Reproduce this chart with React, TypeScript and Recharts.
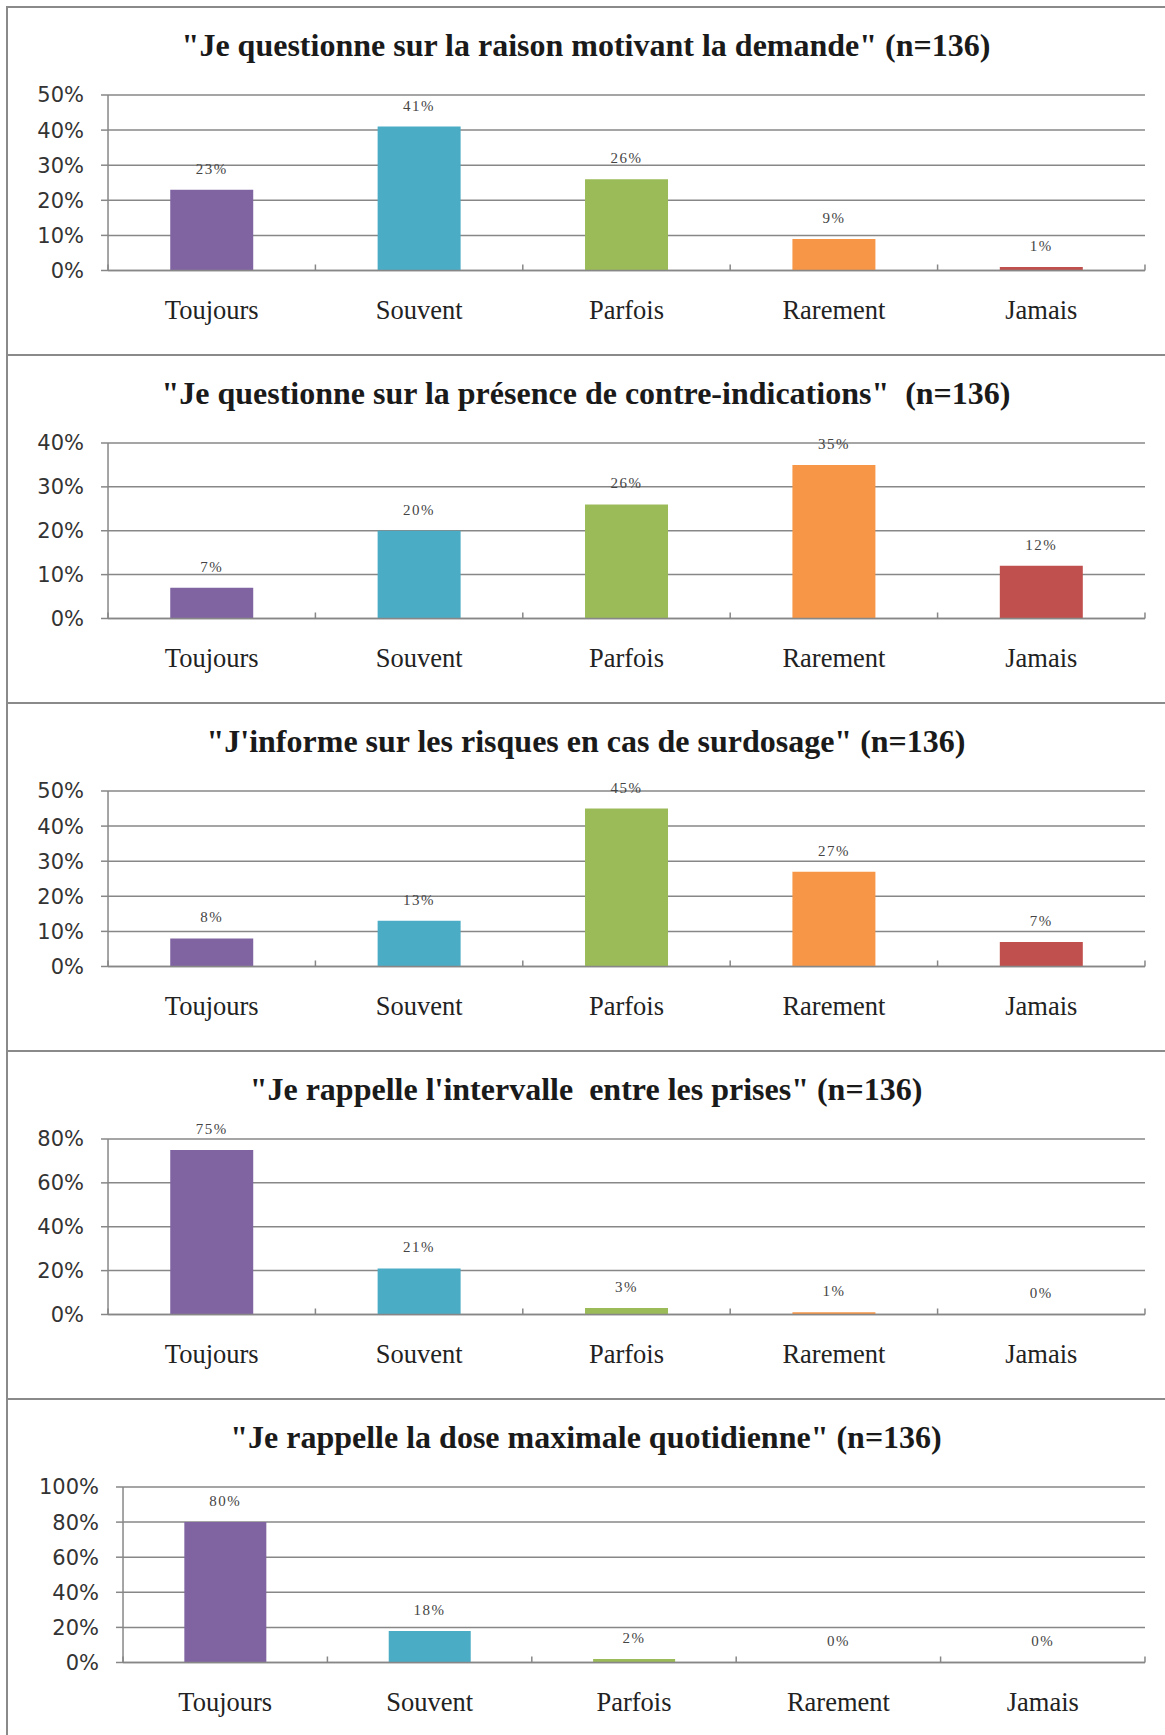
import React from 'react';
import { ComposedChart, Bar, Line, XAxis, YAxis, CartesianGrid, Cell, LabelList } from 'recharts';

const CATEGORIES = ['Toujours', 'Souvent', 'Parfois', 'Rarement', 'Jamais'];
const COLORS = ['#8064A2', '#4BACC6', '#9BBB59', '#F79646', '#C0504D'];

const TITLES = [
  '"Je questionne sur la raison motivant la demande" (n=136)',
  '"Je questionne sur la présence de contre-indications"  (n=136)',
  '"J\'informe sur les risques en cas de surdosage" (n=136)',
  '"Je rappelle l\'intervalle  entre les prises" (n=136)',
  '"Je rappelle la dose maximale quotidienne" (n=136)',
];

const RAISON = [23, 41, 26, 9, 1];
const CONTRE_INDICATIONS = [7, 20, 26, 35, 12];
const SURDOSAGE = [8, 13, 45, 27, 7];
const INTERVALLE = [75, 21, 3, 1, 0];
const DOSE_MAX = [80, 18, 2, 0, 0];

const TICKS_50 = [0, 10, 20, 30, 40, 50];
const TICKS_40 = [0, 10, 20, 30, 40];
const TICKS_80 = [0, 20, 40, 60, 80];
const TICKS_100 = [0, 20, 40, 60, 80, 100];

const PANELS = [
  { title: TITLES[0], values: RAISON, ticks: TICKS_50, yWidth: 108 },
  { title: TITLES[1], values: CONTRE_INDICATIONS, ticks: TICKS_40, yWidth: 108 },
  { title: TITLES[2], values: SURDOSAGE, ticks: TICKS_50, yWidth: 108 },
  { title: TITLES[3], values: INTERVALLE, ticks: TICKS_80, yWidth: 108 },
  { title: TITLES[4], values: DOSE_MAX, ticks: TICKS_100, yWidth: 123 },
];

const W = 1165;
const PANEL_H = 348.2;
const GRAY = '#878787';
const RIGHT = 20;

const CategoryTick = (props: any) => {
  const { x, y, payload, index, band } = props;
  const half = band / 2;
  return (
    <g>
      <line x1={x - half} y1={y - 14} x2={x - half} y2={y - 8} stroke={GRAY} strokeWidth={1.5} />
      {index === CATEGORIES.length - 1 ? (
        <line x1={x + half} y1={y - 14} x2={x + half} y2={y - 8} stroke={GRAY} strokeWidth={1.5} />
      ) : null}
      <text x={x} y={y + 32} textAnchor="middle" dominantBaseline="central"
        fontFamily="'Liberation Serif', serif" fontSize={26.5} fill="#222">
        {payload.value}
      </text>
    </g>
  );
};

const Panel = ({ title, values, ticks, yWidth, top }: any) => {
  const data = CATEGORIES.map((c, i) => ({ cat: c, v: values[i] }));
  const band = (W - yWidth - RIGHT) / CATEGORIES.length;
  return (
    <div style={{ position: 'absolute', left: 0, top, width: W, height: PANEL_H }}>
      <div style={{
        position: 'absolute', left: 6, top: 0, width: W, height: PANEL_H,
        borderTop: '2px solid #8a8a8a', borderLeft: '2px solid #8a8a8a', boxSizing: 'border-box',
      }} />
      <div style={{
        position: 'absolute', left: 0, top: 20, width: 1172, textAlign: 'center',
        fontFamily: "'Liberation Serif', serif", fontWeight: 'bold', fontSize: 32, lineHeight: '38px',
        color: '#1a1a1a', whiteSpace: 'pre',
      }}>
        {title}
      </div>
      <div style={{ position: 'absolute', left: 0, top: 0 }}>
        <ComposedChart width={W} height={PANEL_H} data={data} barCategoryGap="30%"
          margin={{ top: 89, right: RIGHT, bottom: 0, left: 0 }}>
          <CartesianGrid vertical={false} stroke={GRAY} strokeWidth={1.5} />
          <XAxis dataKey="cat" height={PANEL_H - 264.5} axisLine={{ stroke: GRAY, strokeWidth: 1.5 }}
            tickLine={false} interval={0} tick={<CategoryTick band={band} />} />
          <YAxis width={yWidth} domain={[0, ticks[ticks.length - 1]]} ticks={ticks} interval={0}
            tickFormatter={(v: number) => `${v}%`}
            axisLine={{ stroke: GRAY, strokeWidth: 1.5 }} tickLine={{ stroke: GRAY, strokeWidth: 1.5 }}
            tickSize={7} tickMargin={17}
            tick={{ fontFamily: "'DejaVu Sans', sans-serif", fontSize: 21, fill: '#333' }} />
          <Bar dataKey="v" isAnimationActive={false}>
            {data.map((d, i) => (
              <Cell key={d.cat} fill={COLORS[i]} />
            ))}
          </Bar>
          {/* invisible series so every value, even 0, gets its label */}
          <Line dataKey="v" stroke="none" dot={false} activeDot={false} isAnimationActive={false}>
            <LabelList dataKey="v" position="top" offset={16} formatter={(v: any) => `${v}%`}
              style={{ fontFamily: "'Liberation Serif', serif", fontSize: 15, fill: '#444', letterSpacing: 1.5 }} />
          </Line>
        </ComposedChart>
      </div>
    </div>
  );
};

export default function App() {
  return (
    <div style={{ position: 'absolute', left: 0, top: 0, width: W, height: 1735, background: '#fff', overflow: 'hidden' }}>
      {PANELS.map((p, i) => (
        <Panel key={i} {...p} top={5.5 + i * PANEL_H} />
      ))}
    </div>
  );
}
